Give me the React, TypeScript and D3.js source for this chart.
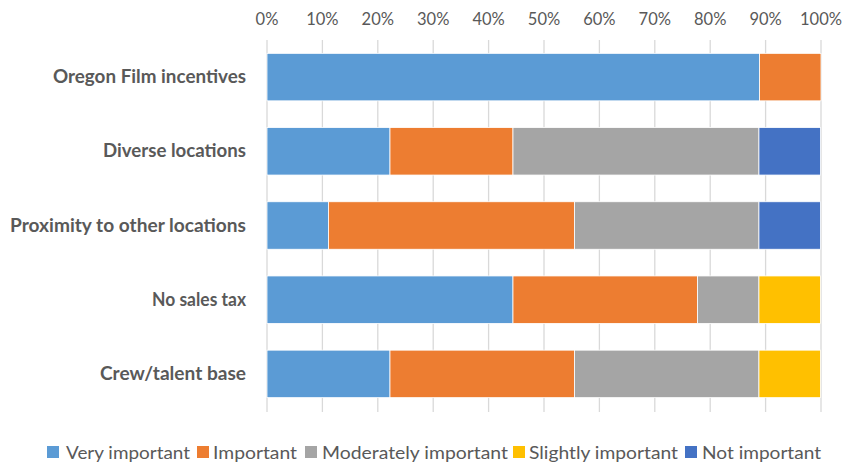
import React from "react";
import * as d3 from "d3";

const categories = [
  "Oregon Film incentives",
  "Diverse locations",
  "Proximity to other locations",
  "No sales tax",
  "Crew/talent base",
];
const seriesNames = [
  "Very important",
  "Important",
  "Moderately important",
  "Slightly important",
  "Not important",
];
const veryImportant = [88.9, 22.2, 11.1, 44.4, 22.2];
const important = [11.1, 22.2, 44.4, 33.3, 33.3];
const moderatelyImportant = [0, 44.4, 33.3, 11.1, 33.3];
const slightlyImportant = [0, 0, 0, 11.1, 11.1];
const notImportant = [0, 11.1, 11.1, 0, 0];
const colors = ["#5B9BD5", "#ED7D31", "#A5A5A5", "#FFC000", "#4472C4"];
const ticks = [0, 10, 20, 30, 40, 50, 60, 70, 80, 90, 100];

export default function App() {
  const W = 843, H = 465;
  const x = d3.scaleLinear().domain([0, 100]).range([267, 821]);
  const y = d3.scaleBand().domain(categories).range([40, 411]).paddingInner(0.36).paddingOuter(0.18);
  const seriesVals = [veryImportant, important, moderatelyImportant, slightlyImportant, notImportant];
  const rows = categories.map((c, i) => {
    const o: any = { cat: c };
    seriesNames.forEach((s, j) => (o[s] = seriesVals[j][i]));
    return o;
  });
  const stack = d3.stack().keys(seriesNames)(rows);
  const font = "Lato, 'Open Sans', sans-serif";
  const labelWidths = [193, 143, 236, 94, 146];
  const legendPos = [
    { sq: 47, tx: 66, w: 124 },
    { sq: 197, tx: 213, w: 84 },
    { sq: 305, tx: 322, w: 186 },
    { sq: 513, tx: 529, w: 149 },
    { sq: 685, tx: 702, w: 119 },
  ];
  return (
    <svg width={W} height={H} style={{ position: "absolute", left: 0, top: 0 }} fontFamily={font}>
      <rect width={W} height={H} fill="#fff" />
      {ticks.map((t) => (
        <g key={t}>
          <line x1={x(t)} x2={x(t)} y1={40} y2={412} stroke="#D9D9D9" strokeWidth={1.3} />
          <text x={x(t)} y={25} textAnchor="middle" fontSize={16.5} fill="#595959">{t}%</text>
        </g>
      ))}
      {stack.map((s, si) => (
        <g key={si}>
          {s.map((d, i) => (
            d[1] - d[0] > 0 ? (
              <rect key={i} x={x(d[0])} y={y(categories[i])!} width={x(d[1]) - x(d[0])} height={y.bandwidth()}
                fill={colors[si]} stroke="#fff" strokeWidth={0.8} />
            ) : null
          ))}
        </g>
      ))}
      {categories.map((c, i) => (
        <text key={c} x={246} y={y(c)! + y.bandwidth() / 2 + 6} textAnchor="end" fontSize={18} fontWeight="bold" fill="#595959"
          textLength={labelWidths[i]} lengthAdjust="spacingAndGlyphs">{c}</text>
      ))}
      {seriesNames.map((s, i) => (
        <g key={s}>
          <rect x={legendPos[i].sq} y={446} width={12} height={12} fill={colors[i]} />
          <text x={legendPos[i].tx} y={459} fontSize={17} fill="#595959"
            textLength={legendPos[i].w} lengthAdjust="spacingAndGlyphs">{s}</text>
        </g>
      ))}
    </svg>
  );
}
